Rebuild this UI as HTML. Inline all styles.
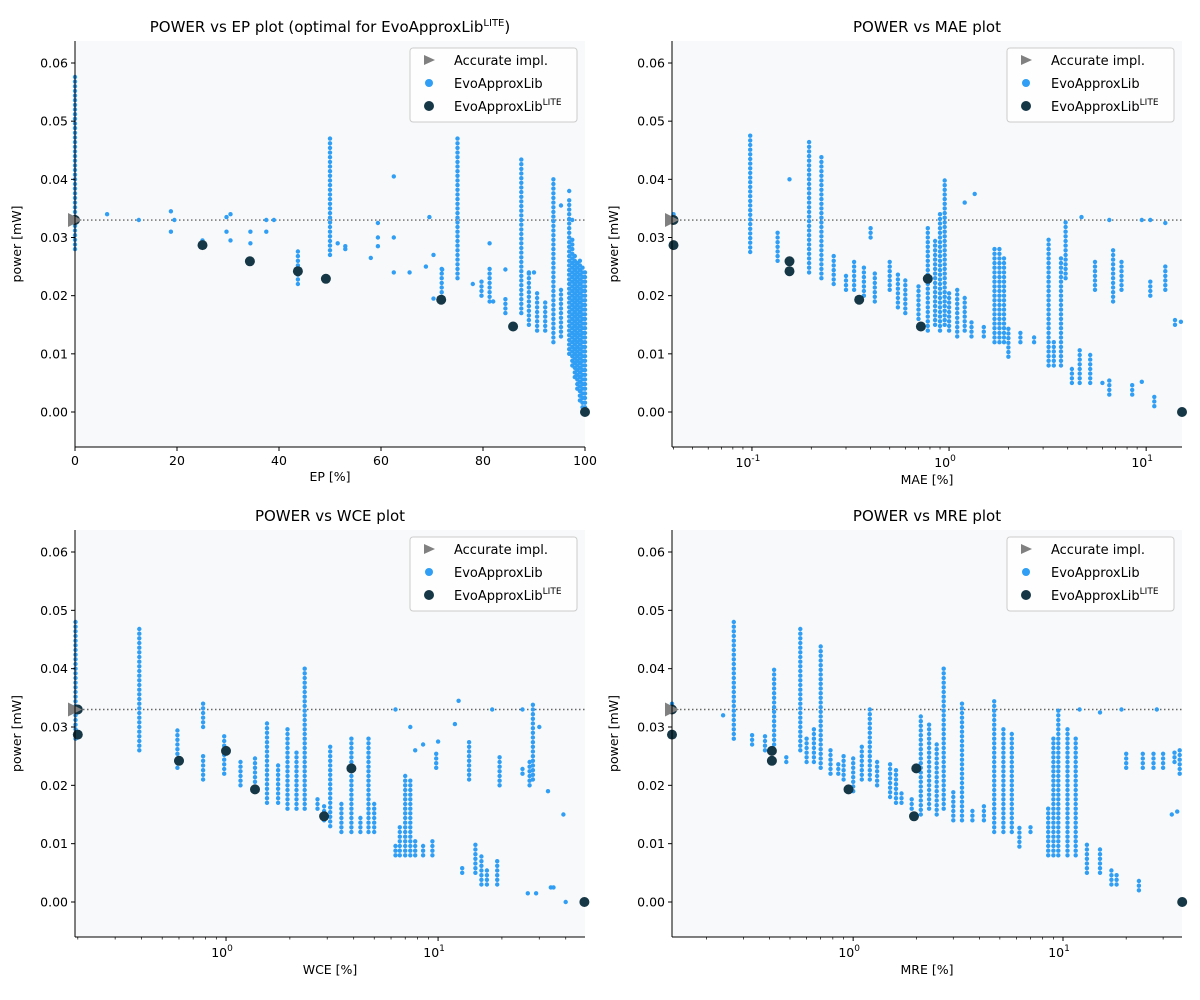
<!DOCTYPE html>
<html><head><meta charset="utf-8"><style>
html,body{margin:0;padding:0;background:#fff;}
svg{display:block;font-family:"DejaVu Sans","Liberation Sans",sans-serif;}
</style></head><body>
<svg id="fig" width="1200" height="1000" viewBox="0 0 1200 1000"></svg>
<script>
// ---------- DATA ----------
const yTicks=[0.00,0.01,0.02,0.03,0.04,0.05,0.06];
const accuratePower=0.033;
const litePower=[0.033,0.0287,0.0259,0.0242,0.0229,0.0193,0.0147,0.0];
const liteEP=[0,25,34.3,43.7,49.2,71.8,85.9,100];
const liteMAE=[0.04,0.04,0.155,0.155,0.78,0.35,0.72,15.2];
const liteWCE=[0.2,0.2,1.0,0.6,3.9,1.37,2.9,49];
const liteMRE=[0.137,0.137,0.41,0.41,2.0,0.95,1.95,37];
// columns: [x, yLow, yHigh]
const colsEP=[[0,0.028,0.058],[50,0.027,0.047],[75,0.023,0.047],[43.7,0.022,0.028],[87.5,0.017,0.044],[93.8,0.012,0.040],[96.9,0.010,0.037],[97.5,0.008,0.030],[98,0.006,0.027],[98.5,0.004,0.026],[99,0.002,0.026],[99.5,0.0,0.025],[100,0.0,0.024],[71.9,0.019,0.025],[79.7,0.020,0.023],[81.3,0.019,0.025],[84.4,0.017,0.020],[89,0.015,0.024],[90.6,0.014,0.021],[92.2,0.014,0.019],[95.3,0.013,0.021]];
const ptsEP=[[6.3,0.034],[12.5,0.033],[18.8,0.0345],[18.8,0.031],[19.5,0.033],[25,0.029],[25,0.0295],[29.7,0.0335],[29.7,0.031],[30.5,0.0295],[30.5,0.034],[34.4,0.031],[34.4,0.029],[37.5,0.033],[37.5,0.031],[39,0.033],[51.5,0.029],[53,0.028],[53,0.0285],[59.4,0.0325],[59.4,0.030],[59.4,0.0285],[58,0.0265],[62.5,0.0405],[62.5,0.030],[62.5,0.024],[65.6,0.024],[68.8,0.025],[69.5,0.0335],[70.3,0.027],[70.3,0.0195],[72,0.0245],[78,0.022],[81.3,0.029],[82,0.019],[84.4,0.0245],[89,0.024],[90,0.024],[95.3,0.0355],[96.9,0.038],[97.5,0.033]];
const colsMAE=[[0.098,0.0275,0.0475],[0.135,0.026,0.031],[0.195,0.024,0.047],[0.225,0.023,0.044],[0.26,0.022,0.027],[0.3,0.021,0.024],[0.33,0.021,0.026],[0.37,0.020,0.025],[0.4,0.030,0.032],[0.42,0.019,0.024],[0.5,0.021,0.026],[0.55,0.018,0.024],[0.6,0.017,0.023],[0.7,0.016,0.022],[0.78,0.014,0.032],[0.85,0.015,0.030],[0.9,0.014,0.034],[0.95,0.015,0.040],[1.0,0.014,0.021],[1.1,0.013,0.021],[1.2,0.014,0.020],[1.3,0.013,0.016],[1.5,0.013,0.015],[1.7,0.012,0.028],[1.8,0.012,0.028],[1.9,0.012,0.027],[2.0,0.0095,0.015],[2.3,0.012,0.014],[2.7,0.012,0.013],[3.2,0.008,0.030],[3.4,0.008,0.012],[3.7,0.008,0.027],[3.9,0.023,0.033],[4.2,0.005,0.008],[4.6,0.005,0.011],[5.2,0.005,0.010],[5.5,0.021,0.026],[6.5,0.003,0.006],[6.8,0.019,0.028],[7.5,0.021,0.026],[8.5,0.003,0.005],[10.5,0.020,0.023],[11,0.001,0.003],[12.5,0.021,0.025],[14,0.015,0.016]];
const ptsMAE=[[0.04,0.034],[0.155,0.040],[1.35,0.0375],[1.2,0.036],[4.7,0.0335],[6.5,0.033],[9.5,0.033],[10.5,0.033],[12.5,0.0325],[15,0.0155],[6,0.005],[9.5,0.0052]];
const colsWCE=[[0.195,0.028,0.048],[0.39,0.026,0.047],[0.59,0.023,0.03],[0.78,0.021,0.025],[0.78,0.030,0.034],[0.98,0.022,0.029],[1.17,0.020,0.024],[1.37,0.019,0.025],[1.56,0.017,0.031],[1.76,0.017,0.024],[1.95,0.016,0.030],[2.15,0.016,0.026],[2.35,0.016,0.040],[2.7,0.016,0.018],[2.9,0.014,0.017],[3.1,0.013,0.027],[3.5,0.012,0.017],[3.9,0.012,0.028],[4.3,0.012,0.015],[4.7,0.012,0.028],[5.0,0.012,0.017],[6.3,0.008,0.010],[6.6,0.008,0.013],[7.0,0.008,0.022],[7.4,0.008,0.021],[7.8,0.008,0.011],[8.5,0.008,0.010],[9.4,0.008,0.011],[9.8,0.023,0.026],[13,0.005,0.006],[14,0.021,0.028],[15,0.005,0.010],[16,0.003,0.008],[17,0.003,0.006],[19,0.003,0.007],[19.5,0.020,0.025],[27,0.020,0.024],[28,0.021,0.034],[25,0.022,0.023]];
const ptsWCE=[[6.3,0.033],[7.4,0.030],[7.8,0.026],[8.5,0.027],[10,0.0275],[12,0.0305],[12.5,0.0345],[18,0.033],[25,0.033],[30,0.030],[33,0.019],[29,0.0015],[26.5,0.0015],[34,0.0025],[35,0.0025],[39,0.015],[40,0.0]];
const colsMRE=[[0.27,0.028,0.048],[0.33,0.027,0.029],[0.38,0.026,0.029],[0.42,0.027,0.040],[0.48,0.024,0.025],[0.56,0.026,0.047],[0.6,0.024,0.028],[0.65,0.024,0.030],[0.7,0.023,0.044],[0.78,0.022,0.026],[0.85,0.022,0.024],[0.9,0.021,0.025],[1.0,0.019,0.025],[1.1,0.021,0.027],[1.2,0.021,0.033],[1.3,0.020,0.024],[1.5,0.018,0.024],[1.6,0.017,0.023],[1.7,0.017,0.019],[1.9,0.016,0.018],[2.1,0.015,0.032],[2.3,0.016,0.031],[2.5,0.015,0.027],[2.7,0.016,0.040],[3.0,0.014,0.019],[3.3,0.014,0.034],[3.7,0.014,0.016],[4.2,0.014,0.017],[4.7,0.012,0.035],[5.2,0.012,0.030],[5.7,0.012,0.029],[6.2,0.0095,0.013],[7,0.012,0.013],[8.5,0.008,0.016],[9,0.008,0.028],[9.5,0.008,0.033],[10.5,0.008,0.030],[11.5,0.008,0.028],[13,0.005,0.010],[15,0.005,0.009],[17,0.003,0.006],[18,0.003,0.005],[20,0.023,0.026],[23,0.002,0.004],[24,0.023,0.026],[27,0.023,0.026],[30,0.023,0.026],[34,0.024,0.026],[36,0.022,0.026]];
const ptsMRE=[[0.24,0.032],[0.137,0.034],[12,0.033],[15,0.0325],[19,0.033],[28,0.033],[33,0.015],[35,0.0155],[36,0.0]];

// ---------- RENDER ----------
const NS="http://www.w3.org/2000/svg";
const svg=document.getElementById('fig');
function mk(tag,attrs,parent){const e=document.createElementNS(NS,tag);for(const k in attrs)e.setAttribute(k,attrs[k]);(parent||svg).appendChild(e);return e;}
const BLUE="#2f9ef4",DARK="#163746";

function panel(cfg){
  const {L,R,T,B,y0px,y6px,log,xmin,xmax,title,xlabel,cols,pts,liteX,name}=cfg;
  const g=mk('g',{});
  
  
  const ys=v=>y0px+(y6px-y0px)*v/0.06;
  const xs=log?(v=>L+(Math.log10(v)-Math.log10(xmin))/(Math.log10(xmax)-Math.log10(xmin))*(R-L)):(v=>L+(v-xmin)/(xmax-xmin)*(R-L));
  const bg=mk('rect',{x:L,y:T,width:R-L,height:B-T,fill:'#f8f9fa'},g);
  
  
  const clip='c'+name;
  const cp=mk('clipPath',{id:clip},g);mk('rect',{x:L-6,y:T,width:R-L+12,height:B-T},cp);
  const dg=mk('g',{'clip-path':`url(#${clip})`},g);
  const rl=mk('line',{x1:L,x2:R,y1:ys(accuratePower),y2:ys(accuratePower),stroke:'#666','stroke-width':1.4,'stroke-dasharray':'1.5,2.5'},dg);
  
  
  cols.forEach(c=>{
    for(let v=c[1];v<=c[2]+1e-9;v+=0.0008){
      const d=mk('circle',{cx:xs(c[0]).toFixed(1),cy:ys(v).toFixed(1),r:2.2,fill:BLUE},dg);
      
      
    }
  });
  pts.forEach(p=>{
    const d=mk('circle',{cx:xs(p[0]).toFixed(1),cy:ys(p[1]).toFixed(1),r:2.2,fill:BLUE},dg);
    
    
  });
  liteX.forEach((x,i)=>{
    const d=mk('circle',{cx:xs(x).toFixed(1),cy:ys(litePower[i]).toFixed(1),r:5,fill:DARK},dg);
    
    
  });
  const ty=ys(accuratePower);
  const tri=mk('polygon',{points:`${L-7},${ty-7} ${L-7},${ty+7} ${L+7},${ty}`,fill:'#808080'},g);
  
  
  mk('line',{x1:L,x2:L,y1:T,y2:B,stroke:'#000','stroke-width':1},g);
  mk('line',{x1:L,x2:R,y1:B,y2:B,stroke:'#000','stroke-width':1},g);
  yTicks.forEach(v=>{
    const y=ys(v);
    mk('line',{x1:L-4,x2:L,y1:y,y2:y,stroke:'#000'},g);
    const t=mk('text',{x:L-7,y:y+4.5,'text-anchor':'end','font-size':12.5},g);t.textContent=v.toFixed(2);
    
    
  });
  if(!log){
    [0,20,40,60,80,100].forEach(v=>{
      const x=xs(v);mk('line',{x1:x,x2:x,y1:B,y2:B+4,stroke:'#000'},g);
      const t=mk('text',{x:x,y:B+18,'text-anchor':'middle','font-size':12.5},g);t.textContent=v;
      
      
    });
  } else {
    for(let e=-2;e<=2;e++){
      for(let m=1;m<10;m++){
        const v=m*Math.pow(10,e);if(v<xmin||v>xmax)continue;
        const x=xs(v);
        mk('line',{x1:x,x2:x,y1:B,y2:B+(m==1?4:2.5),stroke:'#000','stroke-width':m==1?1:0.7},g);
        if(m==1){
          const t=mk('text',{x:x-4,y:B+20,'text-anchor':'middle','font-size':12.5},g);
          
          
          t.innerHTML=`10<tspan dy="-6" font-size="9">${e}</tspan>`;
        }
      }
    }
  }
  const xl=mk('text',{x:(L+R)/2,y:B+(log?37:34),'text-anchor':'middle','font-size':12.5},g);xl.textContent=xlabel;
  
  
  const yl=mk('text',{x:0,y:0,'text-anchor':'middle','font-size':12.5,transform:`translate(${L-54},${(T+B)/2}) rotate(-90)`},g);yl.textContent='power [mW]';
  
  
  const tt=mk('text',{x:(L+R)/2,y:T-9,'text-anchor':'middle','font-size':15},g);tt.innerHTML=title;
  
  
  const lx=R-175,ly=T+7;
  const lg=mk('g',{},g);
  
  
  mk('rect',{x:lx,y:ly,width:167,height:74,rx:3,fill:'#fff','fill-opacity':0.85,stroke:'#ccc'},lg);
  mk('polygon',{points:`${lx+14},${ly+7} ${lx+14},${ly+17} ${lx+25},${ly+12}`,fill:'#808080'},lg);
  mk('circle',{cx:lx+19,cy:ly+35,r:4,fill:BLUE},lg);
  mk('circle',{cx:lx+19,cy:ly+58,r:5,fill:DARK},lg);
  const l1=mk('text',{x:lx+44,y:ly+17,'font-size':13},lg);l1.textContent='Accurate impl.';
  
  
  const l2=mk('text',{x:lx+44,y:ly+40,'font-size':13},lg);l2.textContent='EvoApproxLib';
  
  
  const l3=mk('text',{x:lx+44,y:ly+63,'font-size':13},lg);l3.innerHTML='EvoApproxLib<tspan dy="-6" font-size="9">LITE</tspan>';
  
  
}
panel({name:'panel-ep',L:75,R:585,T:41,B:447,y0px:412,y6px:63,log:false,xmin:0,xmax:100,title:'POWER vs EP plot (optimal for EvoApproxLib<tspan dy="-6" font-size="10">LITE</tspan><tspan dy="6">)</tspan>',xlabel:'EP [%]',cols:colsEP,pts:ptsEP,liteX:liteEP});
panel({name:'panel-mae',L:672,R:1182,T:41,B:447,y0px:412,y6px:63,log:true,xmin:0.0393,xmax:15.2,title:'POWER vs MAE plot',xlabel:'MAE [%]',cols:colsMAE,pts:ptsMAE,liteX:liteMAE});
panel({name:'panel-wce',L:75,R:585,T:530,B:937,y0px:902,y6px:552,log:true,xmin:0.194,xmax:49.3,title:'POWER vs WCE plot',xlabel:'WCE [%]',cols:colsWCE,pts:ptsWCE,liteX:liteWCE});
panel({name:'panel-mre',L:672,R:1182,T:530,B:937,y0px:902,y6px:552,log:true,xmin:0.137,xmax:36.9,title:'POWER vs MRE plot',xlabel:'MRE [%]',cols:colsMRE,pts:ptsMRE,liteX:liteMRE});
</script>
</body></html>
